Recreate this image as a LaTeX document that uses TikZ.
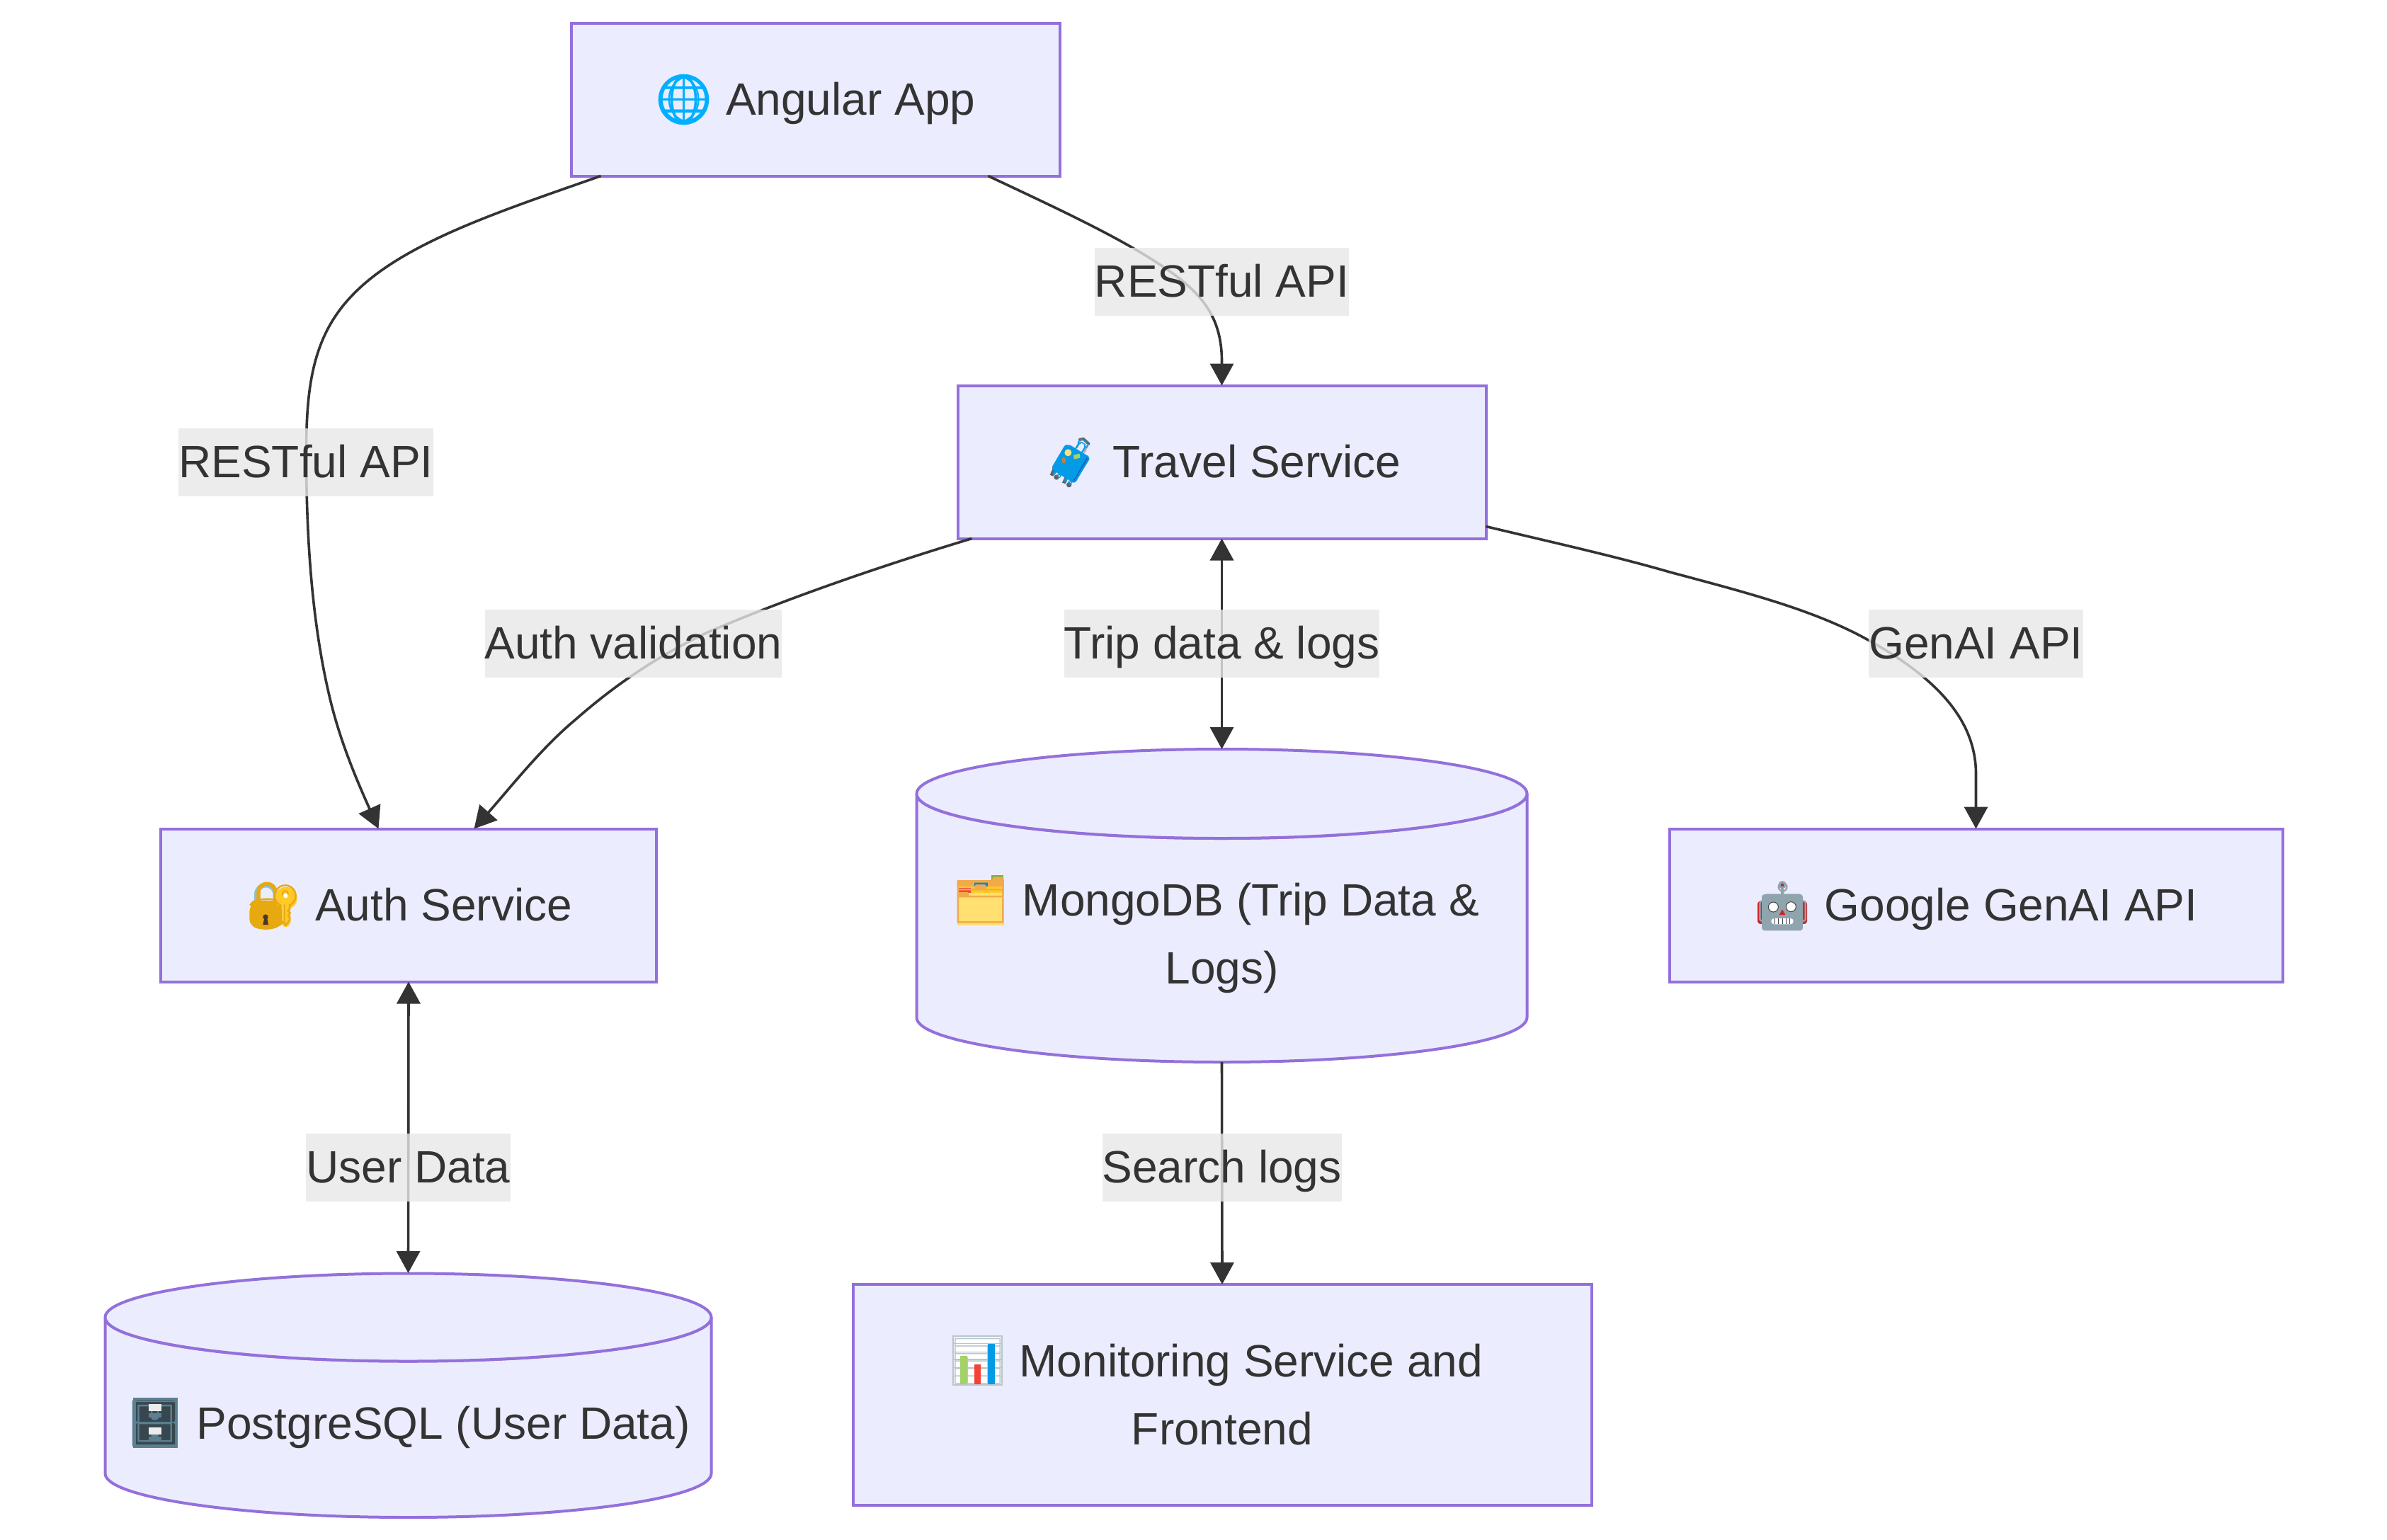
\documentclass[tikz,border=0pt]{standalone}
\usepackage{fontspec}
\setmainfont{Liberation Sans}
\newfontfamily\emofont{Noto Emoji}
\usetikzlibrary{arrows.meta}
\definecolor{nodefill}{HTML}{ECECFF}
\definecolor{nodeline}{HTML}{9370DB}
\definecolor{ink}{HTML}{333333}
\definecolor{labelfill}{HTML}{E8E8E8}
\definecolor{eblue}{HTML}{00B0FF}
\definecolor{sblue}{HTML}{039BE5}
\definecolor{sdark}{HTML}{1565C0}
\definecolor{egray}{HTML}{616161}
\definecolor{lgray}{HTML}{B0B0B0}
\definecolor{shack}{HTML}{90BFD3}
\definecolor{lockb}{HTML}{E6A90F}
\definecolor{keyc}{HTML}{FFCA28}
\definecolor{brownk}{HTML}{4E342E}
\definecolor{rred}{HTML}{C62828}
\definecolor{rhead}{HTML}{90A4AE}
\definecolor{rdark}{HTML}{424242}
\definecolor{cline}{HTML}{B9C6CC}
\definecolor{cgreen}{HTML}{A5D16B}
\definecolor{cred}{HTML}{F44336}
\definecolor{fbody}{HTML}{FFE070}
\definecolor{forange}{HTML}{F2A94A}
\definecolor{fgreen}{HTML}{7CB342}
\definecolor{fblue}{HTML}{0288D1}
\definecolor{cabo}{HTML}{5C7F92}
\definecolor{cabd}{HTML}{37474F}
\newcommand{\ls}{\rule[-13pt]{0pt}{48pt}}
\newcommand{\trail}{\hspace*{8.9pt}}
\newcommand{\emj}[2]{\makebox[40.8pt]{\emofont\color{#1}#2}}
\tikzset{
  art/.style={x=.16667pt,y=-.16667pt},
  box/.style={draw=nodeline,line width=2pt,rectangle,inner sep=0pt,outer sep=0pt,text=ink,align=center,font=\fontsize{32}{48}\selectfont},
  dbtext/.style={inner sep=0pt,text=ink,align=center,font=\fontsize{32}{48}\selectfont},
  cyl/.style={draw=nodeline,fill=nodefill,line width=2pt},
  conn/.style={draw=ink,line width=1.8pt,-{Triangle[length=15.5pt,width=16.5pt]}},
  conn2/.style={draw=ink,line width=1.8pt,{Triangle[length=15.5pt,width=16.5pt]}-{Triangle[length=15.5pt,width=16.5pt]}},
  lab/.style={fill=labelfill,fill opacity=.8,text opacity=1,inner sep=0pt,text=ink,font=\fontsize{32}{48}\selectfont}
}
\begin{document}
\begin{tikzpicture}[x=.5pt,y=-.5pt]
\useasboundingbox (-.5,-.5) rectangle (3370.5,2173.5);
\fill[white] (-.5,-.5) rectangle (3370.5,2173.5);
% box fills
\fill[nodefill] (806,32) rectangle (1496,248);
\fill[nodefill] (1352,544) rectangle (2098,760);
\fill[nodefill] (226.5,1170) rectangle (926.5,1386);
\fill[nodefill] (2357,1170) rectangle (3223,1386);
\fill[nodefill] (1204,1813.5) rectangle (2247,2125.5);
% cylinders
\draw[cyl] (1294,1120.5) arc[start angle=180,end angle=360,x radius=215.5pt,y radius=31.5pt]
  -- (2156,1436.5) arc[start angle=0,end angle=-180,x radius=215.5pt,y radius=31.5pt] -- cycle;
\draw[cyl] (1294,1120.5) arc[start angle=180,end angle=-180,x radius=215.5pt,y radius=31.5pt];
\draw[cyl] (148,1860) arc[start angle=180,end angle=360,x radius=214pt,y radius=31pt]
  -- (1004,2080.5) arc[start angle=0,end angle=-180,x radius=214pt,y radius=31pt] -- cycle;
\draw[cyl] (148,1860) arc[start angle=180,end angle=-180,x radius=214pt,y radius=31pt];
% colour art of the emoji, under their glyphs
\begin{scope}[shift={(965,140)}]
  \draw[eblue,line width=2.2pt] (0,0) circle[radius=16.8pt];
  \draw[eblue,line width=1.8pt] (0,0) ellipse[x radius=8.5pt,y radius=16.8pt];
  \draw[eblue,line width=1.8pt] (0,-34)--(0,34) (-33,0)--(33,0) (-30,-17)--(30,-17) (-30,17)--(30,17);
\end{scope}
\begin{scope}[shift={(1449.5,599.5)},art]
  \draw[lgray,line width=1.4pt] (212,98)--(228,62) (243,118)--(258,85);
  \draw[egray,line width=2pt,line cap=round] (225,62)--(240,60)--(262,80);
  \fill[sdark,rounded corners=2pt] (245,125)--(268,135)--(205,248)--(180,240)--cycle;
  \fill[egray] (98,212)--(110,185)--(124,192)--(112,218)--cycle (150,245)--(162,218)--(176,225)--(164,250)--cycle;
  \fill[egray] (126,222) circle[radius=11] (179,254) circle[radius=11];
  \fill[sblue,rounded corners=2pt] (165,80)--(258,130)--(195,240)--(103,185)--cycle;
\end{scope}
\begin{scope}[shift={(329.5,1229.5)},art]
  \draw[shack,line width=3.4pt] (97,150)--(97,100) arc[start angle=180,end angle=0,radius=6.67pt]--(177,150);
  \fill[lockb,rounded corners=5pt] (67,140)--(205,140)--(205,235)--(136,253)--(67,235)--cycle;
  \fill[lockb] (136,143) ellipse[x radius=69,y radius=18];
  \fill[keyc] (222,115) circle[radius=47];
  \fill[keyc,rounded corners=2pt] (205,150)--(240,150)--(242,225)--(225,240)--(205,235)--cycle;
\end{scope}
\begin{scope}[shift={(2459.5,1229.5)},art]
  \fill[rred,rounded corners=2pt] (66,128) rectangle (92,225) (250,128) rectangle (276,225);
  \fill[rhead] (165,65) rectangle (177,100);
  \fill[rhead] (171,59) circle[radius=17];
  \fill[rhead,rounded corners=2pt] (84,99) rectangle (258,253);
\end{scope}
\begin{scope}[shift={(1319.5,1869.5)},art]
  \fill[white] (76,48) rectangle (288,260);
  \draw[cline,line width=.7pt] (76,83)--(288,83) (76,118)--(288,118) (76,150)--(288,150) (76,185)--(288,185) (76,220)--(288,220);
  \draw[cline,line width=1pt] (78,50) rectangle (286,258);
\end{scope}
\begin{scope}[shift={(-.5,-.5)}]
  \fill[fgreen] (1400,1236) rectangle (1417,1243);
  \fill[forange] (1352,1243) rectangle (1418,1252);
  \fill[keyc] (1352,1252) rectangle (1418,1261);
  \fill[fbody] (1352,1261) rectangle (1418,1307);
  \fill[fblue] (1376,1245) rectangle (1395,1252);
  \fill[cred] (1353,1254) rectangle (1371,1261);
  \fill[cabo] (188,1974) rectangle (250.5,2045);
  \fill[cabd,rounded corners=1pt] (192,1977) rectangle (247,2008);
  \fill[cabd,rounded corners=1pt] (192,2010) rectangle (247,2041);
\end{scope}
% nodes
\node[box,minimum width=345pt,minimum height=108pt] (angular) at (1151,140) {\ls\emj{eblue}{🌐} Angular App};
\node[box,minimum width=373pt,minimum height=108pt] (travel) at (1725,652) {\ls\emj{sblue}{🧳} Travel Service};
\node[box,minimum width=350pt,minimum height=108pt] (auth) at (576.5,1278) {\ls\emj{lockb}{🔐} Auth Service};
\node[box,minimum width=433pt,minimum height=108pt] (genai) at (2790,1278) {\ls\emj{rhead}{🤖} Google GenAI API};
\node[box,minimum width=521.5pt,minimum height=156pt] (monitor) at (1725.5,1969.5) {\ls\emj{cline}{📊} Monitoring Service and\trail\\\ls Frontend};
\node[dbtext] (mongo) at (1725,1319) {\ls\emj{forange}{🗂} MongoDB (Trip Data \&\trail\\\ls Logs)};
\node[dbtext] (postgres) at (576,2009.5) {\ls\emj{cabo}{🗄} PostgreSQL (User Data)};
% colour details above the glyphs
\begin{scope}[shift={(1449.5,599.5)},art]
  \fill[keyc!60!white] (175,118) circle[radius=15];
  \fill[cgreen] (198,128)--(224,122)--(226,140)--(200,146)--cycle;
  \fill[brown] (157,150) ellipse[x radius=8,y radius=14];
\end{scope}
\begin{scope}[shift={(329.5,1229.5)},art]
  \fill[brownk] (135,195) circle[radius=11];
  \fill[brownk] (131,195)--(141,195)--(147,228)--(124,228)--cycle;
  \fill[white] (220,105) circle[radius=10];
\end{scope}
\begin{scope}[shift={(2459.5,1229.5)},art]
  \fill[rred] (165,53) rectangle (177,65);
  \fill[white,draw=rdark,line width=.5pt] (133,153) circle[radius=21] (208,152) circle[radius=21];
  \fill[rred] (171,163)--(158,186)--(184,186)--cycle;
  \fill[white,rounded corners=2pt] (124,201) rectangle (218,226);
  \draw[rdark,line width=.5pt] (140,201)--(140,226) (155,201)--(155,226) (171,201)--(171,226) (187,201)--(187,226) (202,201)--(202,226);
\end{scope}
\begin{scope}[shift={(1319.5,1869.5)},art]
  \fill[cgreen] (108,135) rectangle (137,254);
  \fill[cred] (167,170) rectangle (196,254);
  \fill[sblue] (226,83) rectangle (255,254);
\end{scope}
\begin{scope}[shift={(-.5,-.5)}]
  \fill[white!85!gray] (210,1983) rectangle (228,1993);
  \fill[white!85!gray] (210,2016) rectangle (228,2026);
  \fill[cabo] (210,1996) rectangle (228,2002);
  \fill[cabo] (210,2029) rectangle (228,2035);
\end{scope}
\coordinate (mongotop) at (1725,1057.5);
\coordinate (mongobot) at (1725,1499.5);
\coordinate (pgtop) at (576,1797.5);
% connectors
\draw[conn] ([xshift=-151.5pt]angular.south) .. controls (700,300) and (560,345) .. (491,423)
  .. controls (440,480) and (432,550) .. (432,640)
  .. controls (432,790) and (445,900) .. (465,984)
  .. controls (480,1048) and (505,1105) .. ([xshift=-21.25pt]auth.north);
\draw[conn] ([xshift=122pt]angular.south) .. controls (1480,288) and (1560,325) .. (1620,362)
  .. controls (1690,405) and (1725,440) .. (1725,510) -- (travel.north);
\draw[conn] ([xshift=-176.5pt]travel.south) .. controls (1240,800) and (1110,845) .. (1000,892)
  .. controls (930,925) and (870,965) .. (812,1016)
  .. controls (765,1055) and (720,1112) .. ([xshift=46.25pt]auth.north);
\draw[conn] ([yshift=-45.5pt]travel.east) .. controls (2190,765) and (2280,785) .. (2356,807)
  .. controls (2460,835) and (2560,860) .. (2637,903)
  .. controls (2740,960) and (2790,1020) .. (2790,1093) -- (genai.north);
\draw[conn2] (travel.south) -- (mongotop);
\draw[conn2] (auth.south) -- (pgtop);
\draw[conn] (mongobot) -- (monitor.north);
% labels
\node[lab] (l1) at (431.5,652) {\ls RESTful API};
\node[lab] (l2) at (1725,397) {\ls RESTful API};
\node[lab] (l3) at (894,908) {\ls Auth validation};
\node[lab] (l4) at (1725,908) {\ls Trip data \& logs};
\node[lab] (l5) at (2790,908) {\ls GenAI API};
\node[lab] (l6) at (576,1648) {\ls User Data};
\node[lab] (l7) at (1725,1648) {\ls Search logs};
\end{tikzpicture}
\end{document}
